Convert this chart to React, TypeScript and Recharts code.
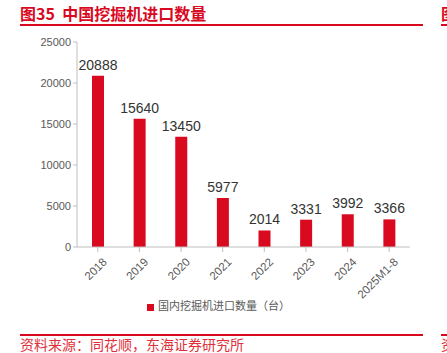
import { Bar, BarChart, LabelList, Legend, XAxis, YAxis } from "recharts";

const YEARS = ["2018", "2019", "2020", "2021", "2022", "2023", "2024", "2025M1-8"];
const IMPORTS = [20888, 15640, 13450, 5977, 2014, 3331, 3992, 3366];
const Y_TICKS = [0, 5000, 10000, 15000, 20000, 25000];

const data = YEARS.map((year, i) => ({ year, imports: IMPORTS[i] }));

const RED = "#d9091f";
const NUM_FONT = "'Liberation Sans', Arial, sans-serif";
const CJK_FONT = "'Noto Sans CJK SC', 'Liberation Sans', sans-serif";

function AngledTick(props: any) {
  const { x, y, payload } = props;
  return (
    <g transform={`translate(${x + 4},${y + 3})`}>
      <text
        textAnchor="end"
        transform="rotate(-45)"
        fontSize={11.5}
        fill="#595959"
        fontFamily={NUM_FONT}
        dy={8}
      >
        {payload.value}
      </text>
    </g>
  );
}

export default function App() {
  return (
    <div style={{ position: "fixed", left: 0, top: 0, width: 447, height: 353, background: "#fff", overflow: "hidden" }}>
      <div style={{ position: "absolute", left: 20, top: 1, fontFamily: CJK_FONT, fontWeight: 700, fontSize: 16, color: RED, whiteSpace: "nowrap" }}>
        图35&nbsp;&nbsp;中国挖掘机进口数量
      </div>
      <div style={{ position: "absolute", left: 441, top: 1, fontFamily: CJK_FONT, fontWeight: 700, fontSize: 16, color: RED }}>图</div>
      <div style={{ position: "absolute", left: 20, top: 24, width: 403, height: 2, background: RED }} />
      <div style={{ position: "absolute", left: 441, top: 24, width: 10, height: 2, background: RED }} />

      <BarChart
        width={447}
        height={353}
        data={data}
        margin={{ top: 42, right: 37, left: 27, bottom: 30 }}
        style={{ position: "absolute", left: 0, top: 0 }}
      >
        <YAxis
          width={50}
          domain={[0, 25000]}
          ticks={Y_TICKS}
          interval={0}
          tick={{ fontSize: 11, fill: "#595959", fontFamily: NUM_FONT }}
          stroke="#bfbfbf"
          tickSize={4}
        />
        <XAxis
          dataKey="year"
          height={60}
          interval={0}
          tick={<AngledTick />}
          stroke="#bfbfbf"
          tickSize={5}
        />
        <Legend
          verticalAlign="bottom"
          iconType="square"
          iconSize={7}
          wrapperStyle={{ top: 297, left: 0, width: 447, fontSize: 11, fontFamily: CJK_FONT }}
          formatter={(v) => <span style={{ color: "#595959" }}>{v}</span>}
        />
        <Bar dataKey="imports" name="国内挖掘机进口数量（台）" fill={RED} barSize={12} isAnimationActive={false}>
          <LabelList dataKey="imports" position="top" offset={6} fill="#333" fontSize={14} fontFamily={NUM_FONT} />
        </Bar>
      </BarChart>

      <div style={{ position: "absolute", left: 20, top: 334, width: 403, height: 1.5, background: RED }} />
      <div style={{ position: "absolute", left: 441, top: 334, width: 10, height: 1.5, background: RED }} />
      <div style={{ position: "absolute", left: 20, top: 336, fontFamily: CJK_FONT, fontSize: 14, lineHeight: "17px", color: "#e0303a", whiteSpace: "nowrap" }}>
        资料来源：同花顺，东海证券研究所
      </div>
      <div style={{ position: "absolute", left: 441, top: 336, fontFamily: CJK_FONT, fontSize: 14, lineHeight: "17px", color: "#e0303a" }}>资</div>
    </div>
  );
}
